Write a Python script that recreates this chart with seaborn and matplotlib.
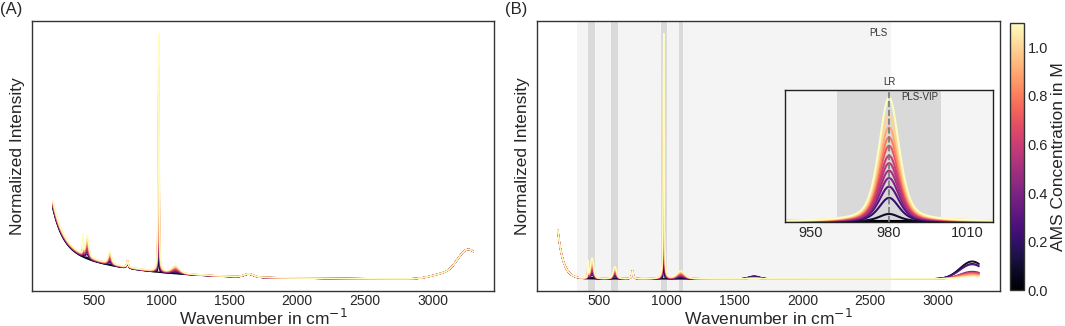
import numpy as np
import pandas as pd
import matplotlib
matplotlib.use("Agg")
import matplotlib.pyplot as plt
import matplotlib.transforms as mtransforms
from matplotlib.colors import Normalize
from matplotlib.cm import ScalarMappable
import seaborn as sns

# concentration series (M) and relative height of the AMS bands for each spectrum
conc = [0.0, 0.1, 0.2, 0.3, 0.4, 0.5, 0.55, 0.6, 0.7, 0.8, 0.9, 1.0, 1.1]
peak_height = [0.0, 0.06, 0.19, 0.28, 0.35, 0.41, 0.47, 0.53, 0.61, 0.68, 0.76, 0.86, 1.0]
# water stretch level in the corrected spectra (B), read near 3250 cm-1
water_b = [0.070, 0.072, 0.062, 0.058, 0.030, 0.027, 0.026, 0.025, 0.024, 0.020, 0.016, 0.012, 0.008]

# AMS bands: centre, half width, height at the top concentration (A and B)
band_center = [422, 452, 620, 980, 1105]
band_hwhm = [3, 14, 15, 4.6, 35]
band_height_a = [0.075, 0.085, 0.05, 0.97, 0.03]
band_height_b = [0.065, 0.085, 0.05, 1.0, 0.032]

# concentration independent features (A): centre, width, height
fixed_center = [750, 1645, 3080, 3240, 3330]
fixed_width = [6, 35, 90, 70, 80]
fixed_height_a = [0.028, 0.012, 0.02, 0.08, 0.06]
fixed_height_b = 0.033

# background decays: amplitude, start, decay length
decay_a = [(0.18, 200, 74), (0.14, 200, 520)]
decay_b = [(0.2, 200, 40)]

# selected regions
pls_region = (340, 2650)
vip_regions = [(425, 475), (595, 640), (960, 1000), (1095, 1125)]
lr_position = 980

wn = np.arange(200, 3300.5, 0.5)


def lorentz(x, x0, g):
    return 1.0 / (1.0 + ((x - x0) / g) ** 2)


def gauss(x, x0, s):
    return np.exp(-0.5 * ((x - x0) / s) ** 2)


def voigt(x, x0, g):
    # pseudo-Voigt with the same half width for both parts
    return 0.5 * lorentz(x, x0, g) + 0.5 * gauss(x, x0, g / 1.1774)


def build_frame(panel):
    rows = []
    for c, h, wb in zip(conc, peak_height, water_b):
        y = np.zeros_like(wn)
        heights = band_height_a if panel == "A" else band_height_b
        for x0, g, a in zip(band_center, band_hwhm, heights):
            y += h * a * voigt(wn, x0, g)
        if panel == "A":
            for a, x0, t in decay_a:
                y += (0.9 + 0.1 * h) * a * np.exp(-(wn - x0) / t)
            y += fixed_height_a[0] * lorentz(wn, fixed_center[0], fixed_width[0])
            for x0, s, a in zip(fixed_center[1:], fixed_width[1:], fixed_height_a[1:]):
                y += a * gauss(wn, x0, s)
        else:
            for a, x0, t in decay_b:
                y += a * np.exp(-(wn - x0) / t)
            y += fixed_height_b * lorentz(wn, fixed_center[0], fixed_width[0])
            y += wb * gauss(wn, 3250, 90)
            y += 0.15 * wb * gauss(wn, 1645, 40)
        rows.append(pd.DataFrame({"wavenumber": wn, "intensity": y, "conc": c}))
    return pd.concat(rows, ignore_index=True)


df_a = build_frame("A")
df_b = build_frame("B")

sns.set_theme(style="white")
plt.rcParams["font.family"] = ["Liberation Sans", "DejaVu Sans"]
plt.rcParams["axes.edgecolor"] = "#333333"
plt.rcParams["axes.linewidth"] = 1.0
plt.rcParams["path.simplify"] = False

norm = Normalize(0, 1.1)
fig = plt.figure(figsize=(10.65, 3.26), dpi=100)
ax_a = fig.add_axes([0.030, 0.107, 0.434, 0.828])
ax_b = fig.add_axes([0.504, 0.107, 0.435, 0.828])
cax = fig.add_axes([0.948, 0.110, 0.0131, 0.819])

line_kw = dict(x="wavenumber", y="intensity", hue="conc", palette="magma",
               hue_norm=norm, estimator=None, sort=False, legend=False)

sns.lineplot(data=df_a, ax=ax_a, lw=1.0, **line_kw)

ax_b.axvspan(*pls_region, color="#f4f4f4", lw=0, zorder=0)
for lo, hi in vip_regions:
    ax_b.axvspan(lo, hi, color="#dadada", lw=0, zorder=0)
sns.lineplot(data=df_b, ax=ax_b, lw=1.0, **line_kw)
ax_b.text(2560, 0.955, "PLS", transform=mtransforms.blended_transform_factory(ax_b.transData, ax_b.transAxes),
          ha="center", va="center", fontsize=7, color="#333333")

for ax in (ax_a, ax_b):
    ax.set_yticks([])
    ax.set_xticks([500, 1000, 1500, 2000, 2500, 3000])
    ax.tick_params(axis="x", direction="in", length=3, labelsize=10, pad=2, color="#333333")
    ax.set_xlabel("Wavenumber in cm$^{-1}$", fontsize=12.5, labelpad=0)
    ax.set_ylabel("Normalized Intensity", fontsize=12.5, labelpad=5)
    for sp in ax.spines.values():
        sp.set_visible(True)

# inset around the 980 cm-1 band
ax_in = ax_b.inset_axes([0.536, 0.256, 0.449, 0.489])
ax_in.set_facecolor("#f4f4f4")
ax_in.axvspan(960, 1000, color="#d9d9d9", lw=0, zorder=0)
sub = df_b[(df_b["wavenumber"] >= 935) & (df_b["wavenumber"] <= 1025)]
sns.lineplot(data=sub, ax=ax_in, lw=1.5, **line_kw)
ax_in.axvline(lr_position, color="#777777", ls="--", lw=1.2, zorder=5)
ax_in.set_xlim(940, 1020)
ax_in.set_ylim(-0.005, 1.06)
ax_in.set_yticks([])
ax_in.set_xticks([950, 980, 1010])
ax_in.tick_params(axis="x", direction="in", length=3, labelsize=10.5, pad=3)
ax_in.set_xlabel("")
ax_in.set_ylabel("")
for sp in ax_in.spines.values():
    sp.set_visible(True)
    sp.set_color("#222222")
in_trans = mtransforms.blended_transform_factory(ax_in.transData, ax_in.transAxes)
ax_in.text(lr_position, 1.02, "LR", transform=in_trans, ha="center", va="bottom",
           fontsize=7, color="#333333")
ax_in.text(999, 0.95, "PLS-VIP", transform=in_trans, ha="right", va="center",
           fontsize=7, color="#333333")

cb = fig.colorbar(ScalarMappable(norm=norm, cmap="magma"), cax=cax)
cb.set_ticks([0.0, 0.2, 0.4, 0.6, 0.8, 1.0])
cb.ax.tick_params(direction="in", length=3, labelsize=10.5, pad=3)
cb.set_label("AMS Concentration in M", fontsize=12.5, labelpad=2)
cb.outline.set_edgecolor("#333333")

fig.text(0.0, 0.995, "(A)", ha="left", va="top", fontsize=12)
fig.text(0.474, 0.995, "(B)", ha="left", va="top", fontsize=12)

fig.savefig("out.png", dpi=100)
